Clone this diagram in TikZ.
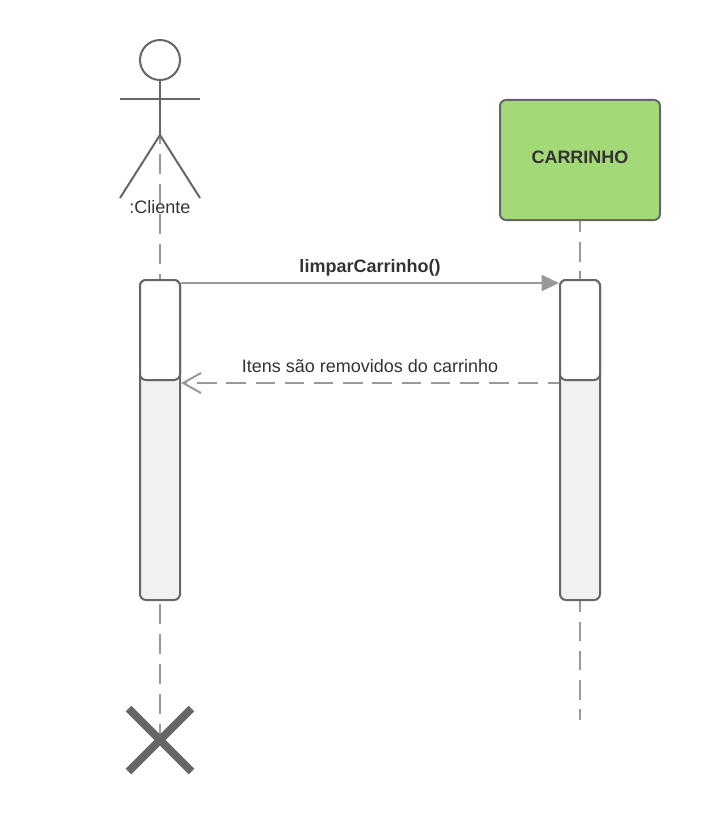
\documentclass[tikz,border=0pt]{standalone}
\usepackage{fontspec}
\usetikzlibrary{arrows.meta,calc}
\setmainfont{Liberation Sans}
\definecolor{traco}{HTML}{666666}
\definecolor{seta}{HTML}{999999}
\definecolor{verde}{HTML}{A3D977}
\definecolor{barra}{HTML}{F1F1F1}
\definecolor{texto}{HTML}{333333}
\tikzset{
  linha/.style={draw=traco,line width=1.5pt},
  ativacao/.style={linha,rounded corners=4.5pt,minimum width=30pt},
  vida/.style={draw=seta,line width=1.5pt,dash pattern=on 15pt off 7.5pt},
  rotulo/.style={text=texto,font=\fontsize{13.5}{16}\selectfont}
}
\begin{document}
\begin{tikzpicture}[x=.75pt,y=-.75pt,every node/.style={inner sep=0pt},line cap=butt]
  \useasboundingbox (0,0) rectangle (700,820);

  % Pontos auxiliares do ator e das mensagens
  \coordinate (quadril) at (160,135);
  \coordinate (maoE) at (120,99);
  \coordinate (maoD) at (200,99);
  \coordinate (peE) at (120,198);
  \coordinate (peD) at (200,198);
  \coordinate (fimE) at (160,740);
  \coordinate (fimD) at (580,720);
  \coordinate (chamada) at (0,283);
  \coordinate (retorno) at (0,383);

  % Caixa do objeto
  \node[linha,fill=verde,rounded corners=4.5pt,minimum width=120pt,minimum height=90pt] (carrinho) at (580,160) {};
  \node[rotulo] (nomeCarrinho) at (580,157) {\textbf{CARRINHO}};

  % Linhas de vida
  \draw[vida,dash phase=8.25pt] (quadril) -- (fimE);
  \draw[vida,dash pattern=on 14.6pt off 7.3pt,dash phase=6pt] (carrinho.south) -- (fimD);

  % Barras de ativação
  \node[ativacao,fill=barra,minimum height=240pt] (barraE) at (160,440) {};
  \node[ativacao,fill=white,minimum height=75pt] (topoE) at (160,330) {};
  \node[ativacao,fill=barra,minimum height=240pt] (barraD) at (580,440) {};
  \node[ativacao,fill=white,minimum height=75pt] (topoD) at (580,330) {};

  % Ator
  \node[linha,circle,minimum size=30pt] (cabeca) at (160,60) {};
  \draw[linha] (cabeca.south) -- (quadril);
  \draw[linha] (maoE) -- (maoD);
  \foreach \pe in {peE,peD}
    \draw[linha] (quadril) -- (\pe);
  \node[rotulo] (cliente) at (160,207) {:Cliente};

  % Mensagens
  \draw[draw=seta,line width=1.5pt,-{Triangle[length=13pt,width=12pt,fill=seta]}] (topoE.east |- chamada) -- (topoD.west |- chamada);
  \node[rotulo] (limpar) at (370,267.5) {\textbf{limparCarrinho()}};
  \draw[vida,dash pattern=on 14.6pt off 7.3pt,dash phase=6pt,-{Straight Barb[length=13.5pt,width=15pt]}] (barraD.west |- retorno) -- (barraE.east |- retorno);
  \node[rotulo] (itens) at (370,366) {Itens são removidos do carrinho};

  % Destruição do cliente
  \draw[draw=traco,line width=6pt] ($(fimE)+(-31.5,-31.5)$) -- ($(fimE)+(31.5,31.5)$);
  \draw[draw=traco,line width=6pt] ($(fimE)+(-31.5,31.5)$) -- ($(fimE)+(31.5,-31.5)$);
\end{tikzpicture}
\end{document}
